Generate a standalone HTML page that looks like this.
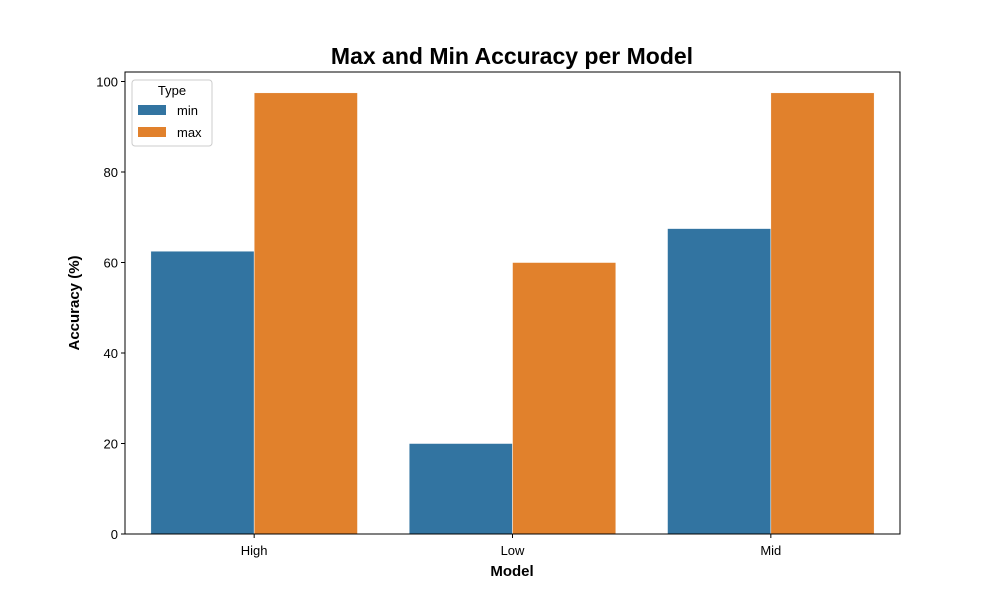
<!DOCTYPE html>
<html><head><meta charset="utf-8"><style>
body{margin:0;background:#fff;font-family:"Liberation Sans",sans-serif;}
svg{display:block}
</style></head><body>
<svg id="chart" width="1000" height="600" xmlns="http://www.w3.org/2000/svg">
<rect width="1000" height="600" fill="#fff"/>
<text x="512" y="64" text-anchor="middle" font-size="23" font-weight="bold" fill="#000">Max and Min Accuracy per Model</text>
<g id="bars"></g>
<rect x="125" y="72" width="775" height="462" fill="none" stroke="#000" stroke-width="1"/>
<g id="axes" font-size="13" fill="#000"></g>
<text x="512" y="576" text-anchor="middle" font-size="15" font-weight="bold">Model</text>
<text transform="translate(79,303) rotate(-90)" text-anchor="middle" font-size="15" font-weight="bold">Accuracy (%)</text>
<g>
<rect x="132" y="80" width="80" height="66" rx="3" fill="#fff" fill-opacity="0.8" stroke="#ccc"/>
<text x="172" y="95" text-anchor="middle" font-size="13">Type</text>
<g><rect x="138" y="105" width="28" height="10" fill="#3274a1"/><text x="177" y="115" font-size="13">min</text></g>
<g><rect x="138" y="127" width="28" height="10" fill="#e1812c"/><text x="177" y="137" font-size="13">max</text></g>
</g>
</svg>
<script>
const categories=["High","Low","Mid"];
const minValues=[62.5,20,67.5];
const maxValues=[97.5,60,97.5];
const yTicks=[0,20,40,60,80,100];
const ns="http://www.w3.org/2000/svg";
const L=125,R=900,T=72,B=534;
const yS=v=>B-v*(B-445.5)/20*1;
const y=v=>B-v*4.525;
const band=(R-L)/categories.length;
const xC=i=>L+band*(i+0.5);
const bw=band*0.4;
const bars=document.getElementById('bars');
const axes=document.getElementById('axes');
function mk(t,a,p){const e=document.createElementNS(ns,t);for(const k in a)e.setAttribute(k,a[k]);p.appendChild(e);return e;}
categories.forEach((c,i)=>{
 const r1=mk('rect',{x:xC(i)-bw,y:y(minValues[i]),width:bw,height:B-y(minValues[i]),fill:'#3274a1',stroke:'#fff','stroke-width':0.5},bars);
 
 
 const r2=mk('rect',{x:xC(i),y:y(maxValues[i]),width:bw,height:B-y(maxValues[i]),fill:'#e1812c',stroke:'#fff','stroke-width':0.5},bars);
 
 
 mk('line',{x1:xC(i),x2:xC(i),y1:B,y2:B+4,stroke:'#000'},axes);
 const t=mk('text',{x:xC(i),y:B+21,'text-anchor':'middle'},axes);t.textContent=c;
 
 
});
yTicks.forEach(v=>{
 mk('line',{x1:L-4,x2:L,y1:y(v),y2:y(v),stroke:'#000'},axes);
 const t=mk('text',{x:L-7,y:y(v)+5,'text-anchor':'end'},axes);t.textContent=v;
 
 
});
</script>
</body></html>
